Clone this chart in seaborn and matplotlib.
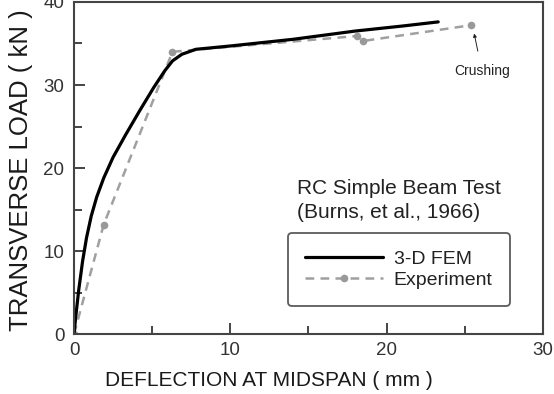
import matplotlib
matplotlib.use("Agg")
import matplotlib.pyplot as plt
import seaborn as sns
import pandas as pd
from matplotlib.ticker import MultipleLocator

sns.set_theme(style="white")
plt.rcParams['font.family'] = ['Liberation Sans', 'DejaVu Sans']

# Data
fem_x = [0.0, 0.1, 0.3, 0.55, 0.8, 1.1, 1.45, 1.9, 2.5, 3.3, 4.2, 5.1, 5.8, 6.3,
         6.9, 7.8, 10.0, 14.0, 18.0, 21.0, 23.3]
fem_y = [0.0, 1.9, 5.3, 8.8, 11.6, 14.2, 16.5, 18.8, 21.3, 24.0, 26.9, 29.7, 31.7, 32.9,
         33.7, 34.3, 34.7, 35.5, 36.5, 37.1, 37.6]
exp_x = [0.0, 1.9, 6.3, 18.1, 18.5, 25.4]
exp_y = [0.0, 13.2, 34.0, 35.9, 35.3, 37.2]

fem = pd.DataFrame({"x": fem_x, "y": fem_y})
exp = pd.DataFrame({"x": exp_x, "y": exp_y})

fig = plt.figure(figsize=(5.54, 3.94), dpi=100)
ax = fig.add_axes([0.1336, 0.152, 0.8464, 0.843])

sns.lineplot(data=exp, x="x", y="y", ax=ax, color="#a0a0a0", linestyle=(0, (3.5, 2.5)),
             linewidth=1.8, marker="o", markersize=5.5, markeredgewidth=0,
             markerfacecolor="#999999", label="Experiment", sort=False)
sns.lineplot(data=fem, x="x", y="y", ax=ax, color="black", linewidth=2.3,
             label="3-D FEM", sort=False)

ax.set_xlim(0, 30)
ax.set_ylim(0, 40)
ax.xaxis.set_major_locator(MultipleLocator(10))
ax.xaxis.set_minor_locator(MultipleLocator(5))
ax.yaxis.set_major_locator(MultipleLocator(10))
ax.yaxis.set_minor_locator(MultipleLocator(5))
ax.tick_params(which="major", direction="in", length=8, width=1.4, color="#444444",
               labelsize=13.5, labelcolor="#333333")
ax.tick_params(axis="y", which="major", pad=7)
ax.tick_params(axis="x", which="major", pad=6)
ax.tick_params(which="minor", direction="in", length=6, width=1.4, color="#444444")
ax.tick_params(axis="both", which="both", bottom=True, left=True, top=False, right=False)
for s in ax.spines.values():
    s.set_color("#444444")
    s.set_linewidth(1.5)

ax.set_xlabel("DEFLECTION AT MIDSPAN ( mm )", fontsize=15, color="#1a1a1a")
ax.set_ylabel("TRANSVERSE LOAD ( kN )", fontsize=18.5, color="#1a1a1a")
ax.xaxis.set_label_coords(0.415, -0.112)
ax.yaxis.set_label_coords(-0.087, 0.494)

ax.text(14.27, 17.5, "RC Simple Beam Test", fontsize=15, color="#222222", va="center")
ax.text(14.27, 14.7, "(Burns, et al., 1966)", fontsize=15, color="#222222", va="center")

ax.annotate("Crushing", xy=(25.6, 36.2), xytext=(26.1, 31.7), fontsize=10,
            ha="center", va="center", color="#222222",
            arrowprops=dict(arrowstyle="-|>", color="#222222", lw=0.7,
                            mutation_scale=5, shrinkA=7, shrinkB=0))

handles, labels = ax.get_legend_handles_labels()
leg = ax.legend([handles[1], handles[0]], [labels[1], labels[0]],
                loc="upper left", bbox_to_anchor=(0.456, 0.304),
                borderaxespad=0,
                fontsize=14, frameon=True, fancybox=True,
                handlelength=4.0, handletextpad=0.55, borderpad=0.9,
                labelspacing=0.15, edgecolor="#333333")
leg.get_frame().set_linewidth(1.3)
for t in leg.get_texts():
    t.set_color("#222222")

fig.savefig("out.png", dpi=100)
